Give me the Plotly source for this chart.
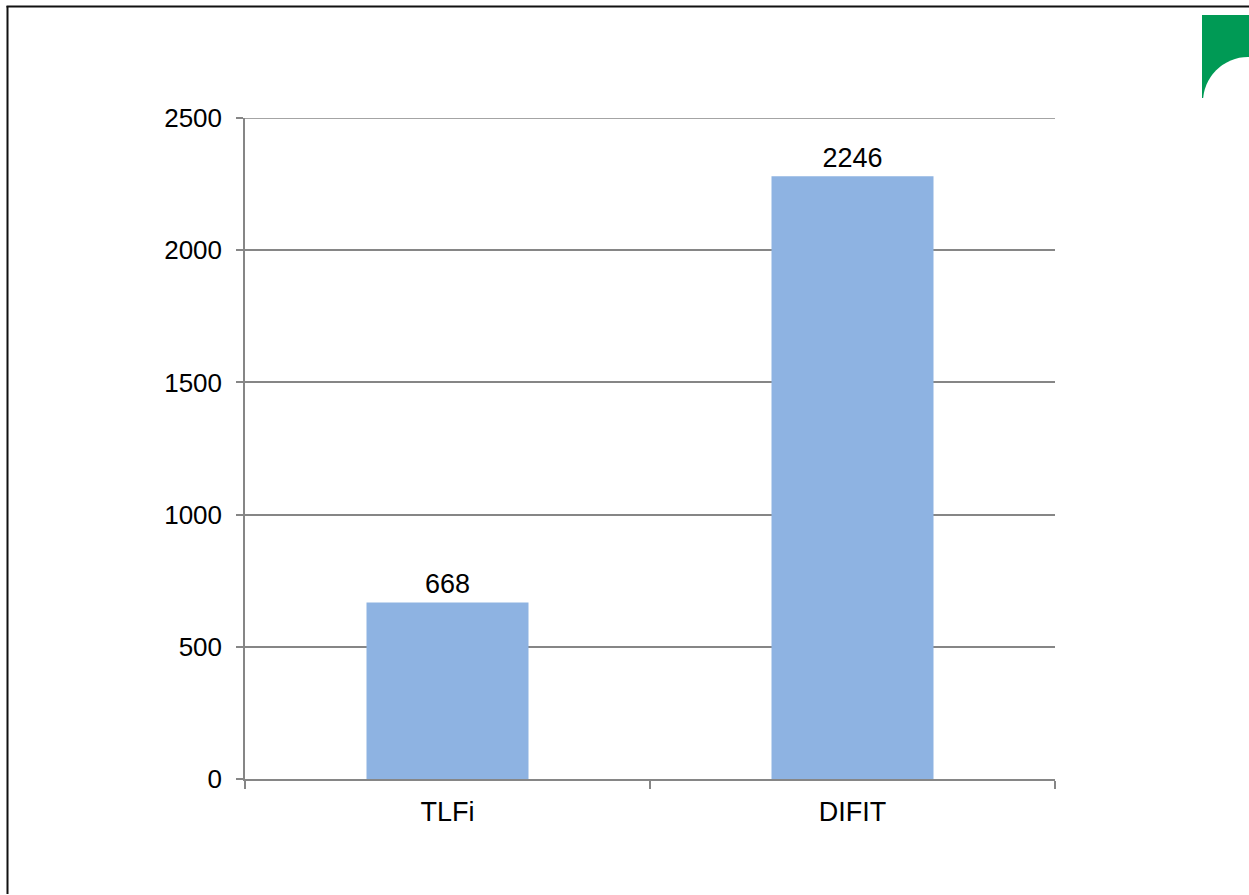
import plotly.graph_objects as go

categories = ["TLFi", "DIFIT"]
bar_values = [668, 2280]
bar_labels = ["668", "2246"]
y_ticks = [0, 500, 1000, 1500, 2000, 2500]

W, H = 1249, 895
L, R, T, B = 245, 1055, 118, 779
FONT = "Arial, Liberation Sans, sans-serif"

def px(x):
    return (x - L) / (R - L)

def py(y):
    return (B - y) / (B - T)

fig = go.Figure(go.Bar(
    x=categories, y=bar_values, text=bar_labels,
    textposition="outside", cliponaxis=False,
    textfont=dict(family=FONT, size=27, color="black"),
    marker=dict(color="#8EB3E2", line=dict(width=0)),
    width=0.4,
))

shapes = [
    # top gridline at 2500
    dict(type="line", xref="paper", yref="y", x0=0, x1=1, y0=y_ticks[-1], y1=y_ticks[-1],
         line=dict(color="#868686", width=1.5), layer="below"),
    # page border (left and top)
    dict(type="line", xref="paper", yref="paper", x0=px(7.5), x1=px(7.5), y0=py(6), y1=py(894),
         line=dict(color="#111111", width=2)),
    dict(type="line", xref="paper", yref="paper", x0=px(6.5), x1=px(1250), y0=py(6.5), y1=py(6.5),
         line=dict(color="#111111", width=2)),
    # logo
    dict(type="rect", xref="paper", yref="paper", x0=px(1202), x1=px(1250), y0=py(15), y1=py(98),
         fillcolor="#009A55", line=dict(width=0), layer="above"),
    dict(type="circle", xref="paper", yref="paper", x0=px(1203), x1=px(1293), y0=py(57), y1=py(147),
         fillcolor="white", line=dict(width=0), layer="above"),
    dict(type="rect", xref="paper", yref="paper", x0=px(1195), x1=px(1250), y0=py(99), y1=py(150),
         fillcolor="white", line=dict(width=0), layer="above"),
]

fig.update_layout(
    width=W, height=H,
    margin=dict(l=L, r=W - R, t=T, b=H - B, pad=0),
    paper_bgcolor="white", plot_bgcolor="white",
    showlegend=False,
    font=dict(family=FONT, size=27, color="black"),
    shapes=shapes,
    bargap=0.6,
)
fig.update_xaxes(
    showline=True, linecolor="#868686", linewidth=1.5,
    ticks="outside", tickson="boundaries", ticklen=8, tickcolor="#868686", tickwidth=1.5,
    tickfont=dict(family=FONT, size=27), showgrid=False, ticklabelstandoff=8,
)
fig.update_yaxes(
    range=[0, 2500], tickvals=y_ticks, ticktext=[str(v) for v in y_ticks],
    showline=True, linecolor="#868686", linewidth=1.5,
    showgrid=True, gridcolor="#868686", gridwidth=1.5,
    ticks="outside", ticklen=7, tickcolor="#868686", tickwidth=1.5,
    tickfont=dict(family=FONT, size=26), zeroline=False, ticklabelstandoff=9,
)

fig.write_html("out.html")
